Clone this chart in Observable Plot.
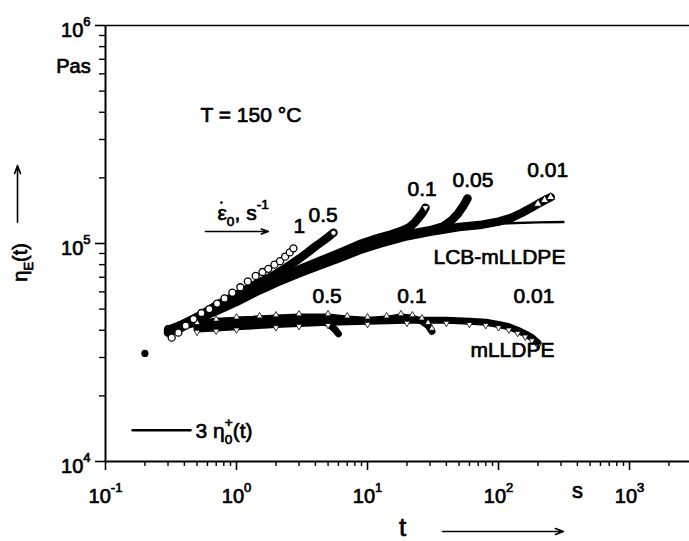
<!DOCTYPE html>
<html><head><meta charset="utf-8">
<script src="https://cdn.jsdelivr.net/npm/d3@7"></script>
<script src="https://cdn.jsdelivr.net/npm/@observablehq/plot@0.6"></script>
<style>body{margin:0;background:#fff;} svg{display:block;}</style>
</head><body><div id="chart"></div>
<script>
// ---------- data (t in s, eta_E in Pa s) ----------
// LCB-mLLDPE
const lcb1_t   = [0.32,0.36,0.41,0.47,0.54,0.62,0.71,0.81,0.93,1.07,1.22,1.40,1.58,1.75,1.95,2.15,2.35,2.55,2.72];
const lcb1_eta = [3.7e4,3.9e4,4.2e4,4.5e4,4.8e4,5.0e4,5.3e4,5.6e4,5.95e4,6.3e4,6.7e4,7.1e4,7.4e4,7.65e4,8.0e4,8.3e4,8.7e4,9.1e4,9.5e4];
const lcb05_t   = [0.3,0.4,0.5,0.7,1.0,1.4,1.9,2.5,3.0,3.5,4.0,4.5,5.0,5.5];
const lcb05_eta = [3.9e4,4.3e4,4.6e4,5.2e4,5.8e4,6.5e4,7.1e4,7.9e4,8.5e4,9.1e4,9.7e4,1.02e5,1.07e5,1.12e5];
const lcb01_t   = [0.35,0.5,0.7,1,1.5,2,3,4.5,6.5,9,12,15,18,21,23,25,26.5,27.7];
const lcb01_eta = [4.1e4,4.6e4,5.0e4,5.5e4,6.3e4,6.8e4,7.6e4,8.4e4,9.2e4,1.0e5,1.06e5,1.1e5,1.14e5,1.19e5,1.25e5,1.33e5,1.39e5,1.46e5];
const lcb005_t   = [0.35,0.5,0.7,1,1.5,2,3,4.5,6.5,10,15,20,30,38,44,49,54,58];
const lcb005_eta = [4.0e4,4.5e4,4.95e4,5.45e4,6.2e4,6.7e4,7.4e4,8.2e4,9.0e4,9.9e4,1.06e5,1.1e5,1.15e5,1.2e5,1.28e5,1.37e5,1.49e5,1.61e5];
const lcb001_t   = [0.3,0.4,0.5,0.7,1,1.5,2,3,4.5,6.2,9,12.6,20,30,50,75,100,125,150,175,200,225,250];
const lcb001_eta = [4.0e4,4.3e4,4.5e4,4.9e4,5.4e4,6.1e4,6.6e4,7.3e4,8.0e4,8.6e4,9.4e4,1.0e5,1.08e5,1.13e5,1.19e5,1.22e5,1.26e5,1.31e5,1.38e5,1.45e5,1.52e5,1.58e5,1.63e5];
// 3 eta0+(t) linear viscoelastic envelope
const lin_t   = [0.3,0.5,1,2,3,5,10,20,30,50,100,200,313];
const lin_eta = [3.9e4,4.4e4,5.3e4,6.5e4,7.2e4,8.2e4,9.7e4,1.08e5,1.14e5,1.19e5,1.235e5,1.25e5,1.255e5];
// mLLDPE
const ml05_t   = [0.2,0.3,0.4,0.5,0.7,1,1.5,2,3,4,5,5.6,6.0];
const ml05_eta = [3.13e4,4.07e4,4.2e4,4.3e4,4.4e4,4.45e4,4.5e4,4.5e4,4.5e4,4.45e4,4.3e4,4.05e4,3.85e4];
const ml01_t   = [0.5,0.7,1,1.5,2,3,5,7,10,14,18,22,26,29,31];
const ml01_eta = [4.2e4,4.35e4,4.45e4,4.5e4,4.55e4,4.6e4,4.6e4,4.5e4,4.45e4,4.5e4,4.6e4,4.55e4,4.4e4,4.2e4,3.95e4];
const ml001_t   = [0.5,0.7,1,2,3,5,10,20,40,60,80,100,120,140,160,180,200];
const ml001_eta = [4.05e4,4.1e4,4.15e4,4.25e4,4.3e4,4.35e4,4.4e4,4.45e4,4.45e4,4.4e4,4.35e4,4.25e4,4.15e4,4.0e4,3.85e4,3.7e4,3.5e4];

// axis ticks
const majorX = [0.1, 1, 10, 100, 1000];
const majorY = [1e4, 1e5, 1e6];
const minorMult = [2,3,4,5,6,7,8,9];

// annotations (text, t, eta)
const annoText = ["T = 150 °C", "1", "0.5", "0.1", "0.05", "0.01", "LCB-mLLDPE", "0.5", "0.1", "0.01", "mLLDPE", "3 η_{0}^{+}(t)", "ε_{0}, s^{-1}"];
const annoT    = [0.531, 2.72, 3.55, 20.2, 44.6, 166, 31.9, 3.80, 16.9, 130, 61, 0.487, 0.716];
const annoEta  = [3.59e5, 1.12e5, 1.25e5, 1.66e5, 1.81e5, 2.01e5, 8.09e4, 5.31e4, 5.36e4, 5.36e4, 3.0e4, 1.28e4, 1.28e5];

// ---------- build ----------
const rows = (ts, es) => ts.map((t, i) => ({t, eta: es[i]}));
const lcb1 = rows(lcb1_t, lcb1_eta), lcb05 = rows(lcb05_t, lcb05_eta), lcb01 = rows(lcb01_t, lcb01_eta),
      lcb005 = rows(lcb005_t, lcb005_eta), lcb001 = rows(lcb001_t, lcb001_eta), lin = rows(lin_t, lin_eta),
      ml05 = rows(ml05_t, ml05_eta), ml01 = rows(ml01_t, ml01_eta), ml001 = rows(ml001_t, ml001_eta);
const annos = annoText.map((text, i) => ({text, t: annoT[i], eta: annoEta[i]}));
const minorX = majorX.flatMap(d => minorMult.map(m => d * m)).filter(v => v < 2870);
const minorY = majorY.slice(0, -1).flatMap(d => minorMult.map(m => d * m));
const expOf = d => String(Math.round(Math.log10(d)));

const FONT = '"Liberation Sans", Arial, Helvetica, sans-serif';
const band = {x: "t", y: "eta", stroke: "black", strokeLinecap: "round", strokeLinejoin: "round"};
const bold = {stroke: "black", strokeWidth: 0.7, fill: "black"};

const svg = Plot.plot({
  width: 689, height: 541,
  marginLeft: 105, marginRight: 0, marginTop: 25, marginBottom: 80,
  style: {fontFamily: FONT, background: "white", color: "black", overflow: "visible"},
  x: {type: "log", domain: [0.1, 2870], axis: null},
  y: {type: "log", domain: [1e4, 1e6], axis: null},
  marks: [
    // frame
    Plot.ruleY([1e6], {strokeWidth: 1.5}),
    Plot.ruleY([1e4], {strokeWidth: 2.2}),
    Plot.ruleX([0.1], {strokeWidth: 2}),
    Plot.axisX({ticks: majorX, tickSize: 9, strokeWidth: 1.6, fill: "none", label: null}),
    Plot.axisX({ticks: minorX, tickSize: 5, strokeWidth: 1.4, fill: "none", label: null}),
    Plot.axisY({ticks: majorY, tickSize: 10, strokeWidth: 1.6, fill: "none", label: null}),
    Plot.axisY({ticks: minorY, tickSize: 6, strokeWidth: 1.4, fill: "none", label: null}),
    // tick labels
    Plot.text(majorX, {x: d => d, frameAnchor: "bottom", text: d => `10^{${expOf(d)}}`, textAnchor: "middle", lineAnchor: "bottom", dy: 41, fontSize: 20, ...bold}),
    Plot.text(majorY, {y: d => d, frameAnchor: "left", text: d => `10^{${expOf(d)}}`, textAnchor: "end", lineAnchor: "bottom", dx: -15, dy: 11, fontSize: 20, ...bold}),
    // axis titles
    Plot.text(["Pas"], {x: () => 0.1, y: () => 6.03e5, text: d => d, textAnchor: "middle", lineAnchor: "bottom", dx: -32, fontSize: 20, ...bold}),
    Plot.text(["s"], {x: () => 401, frameAnchor: "bottom", text: d => d, textAnchor: "middle", lineAnchor: "bottom", dy: 36, fontSize: 22, ...bold}),
    Plot.text(["t"], {x: () => 18.5, frameAnchor: "bottom", text: d => d, textAnchor: "middle", lineAnchor: "bottom", dy: 74, fontSize: 26, ...bold}),
    Plot.arrow([0], {x1: () => 37.4, x2: () => 313, y1: () => 4775, y2: () => 4775, strokeWidth: 1.6, headLength: 8, headAngle: 40}),
    Plot.text(["η_{E}(t)"], {x: () => 0.0224, y: () => 8.19e4, text: d => d, rotate: -90, textAnchor: "middle", fontSize: 20, ...bold}),
    Plot.arrow([0], {x1: () => 0.0213, x2: () => 0.0213, y1: () => 1.25e5, y2: () => 2.28e5, strokeWidth: 1.6, headLength: 8, headAngle: 40}),
    // legend arrow for strain rate
    Plot.arrow([0], {x1: () => 0.579, x2: () => 1.75, y1: () => 1.135e5, y2: () => 1.135e5, strokeWidth: 1.6, headLength: 7, headAngle: 40}),
    Plot.dot([0], {x: () => 0.767, y: () => 1.54e5, r: 1.3, fill: "black"}),
    // linear envelope
    Plot.line(lin, {x: "t", y: "eta", stroke: "black", strokeWidth: 2.4}),
    // LCB bands
    Plot.line(lcb05, {...band, strokeWidth: 8.5}),
    Plot.line(lcb01, {...band, strokeWidth: 8.5}),
    Plot.line(lcb005, {...band, strokeWidth: 8.5}),
    Plot.line(lcb001, {...band, strokeWidth: 8.5}),
    // mLLDPE bands
    Plot.line(ml05, {...band, strokeWidth: 7, filter: d => d.t >= 0.3}),
    Plot.line(ml01, {...band, strokeWidth: 7}),
    Plot.line(ml001, {...band, strokeWidth: 7}),
    // symbols
    Plot.dot(ml01, {x: "t", y: "eta", symbol: "triangle", r: 2.3, fill: "white", stroke: "black", strokeWidth: 0.8, dy: -3}),
    Plot.dot(ml001, {x: "t", y: "eta", symbol: "triangle", rotate: 180, r: 2.3, fill: "white", stroke: "black", strokeWidth: 0.8, dy: 3}),
    Plot.dot(ml05.slice(0, 3), {x: "t", y: "eta", r: 3.6, fill: "black"}),
    Plot.dot(lcb1, {x: "t", y: "eta", r: 3.5, fill: "white", stroke: "black", strokeWidth: 1.3}),
    Plot.dot(lcb05.slice(-1), {x: "t", y: "eta", r: 2.6, fill: "white", stroke: "black", strokeWidth: 0.8}),
    Plot.dot(lcb01.slice(-1), {x: "t", y: "eta", symbol: "triangle", rotate: 180, r: 2.6, fill: "white", stroke: "black", strokeWidth: 0.8}),
    Plot.dot(lcb001.slice(-3), {x: "t", y: "eta", symbol: "triangle", r: 3, fill: "white", stroke: "black", strokeWidth: 0.9}),
    // legend line
    Plot.line([{t: 0.161, eta: 1.39e4}, {t: 0.446, eta: 1.39e4}], {x: "t", y: "eta", stroke: "black", strokeWidth: 2.4}),
    // annotations
    Plot.text(annos, {x: "t", y: "eta", text: "text", textAnchor: "start", lineAnchor: "bottom", fontSize: 21, ...bold})
  ]
});
document.getElementById("chart").appendChild(svg);

// rich text: _{sub} and ^{sup}
function richText(root) {
  root.querySelectorAll("text").forEach(el => {
    const s = el.textContent;
    if (!/[_^]\{/.test(s)) return;
    const fs = parseFloat(getComputedStyle(el).fontSize) || 20;
    const re = /([_^])\{([^}]*)\}/g;
    let last = 0, m, off = 0, prevSub = null;
    el.textContent = "";
    const add = (txt, kind) => {
      const ts = document.createElementNS("http://www.w3.org/2000/svg", "tspan");
      ts.textContent = txt;
      const target = kind === "sub" ? 0.3 * fs : kind === "sup" ? -0.55 * fs : 0;
      const d = target - off;
      if (d) ts.setAttribute("dy", d);
      off = target;
      if (kind) ts.setAttribute("font-size", 0.65 * fs);
      el.appendChild(ts);
      if (kind === "sup" && prevSub) ts.setAttribute("dx", -prevSub.getComputedTextLength());
      prevSub = kind === "sub" ? ts : null;
    };
    while ((m = re.exec(s))) {
      if (m.index > last) add(s.slice(last, m.index), null);
      add(m[2], m[1] === "_" ? "sub" : "sup");
      last = re.lastIndex;
    }
    if (last < s.length) add(s.slice(last), null);
  });
}
richText(svg);
</script></body></html>
